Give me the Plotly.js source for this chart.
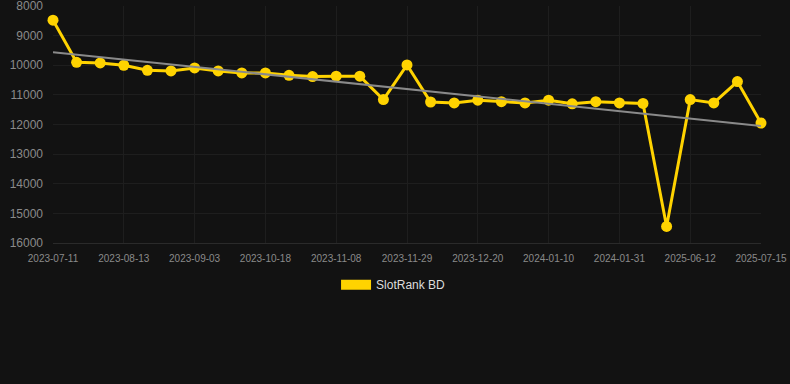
<!DOCTYPE html>
<html>
<head>
<meta charset="utf-8">
<script src="https://cdn.plot.ly/plotly-3.0.1.min.js"></script>
<style>html,body{margin:0;padding:0;background:#121212;}#chart{width:790px;height:384px;}</style>
</head>
<body>
<div id="chart"></div>
<script>
const pointIndex = [0,1,2,3,4,5,6,7,8,9,10,11,12,13,14,15,16,17,18,19,20,21,22,23,24,25,26,27,28,29,30];
const rankValues = [8480,9900,9920,10000,10170,10190,10090,10190,10260,10260,10340,10380,10370,10370,11160,9990,11240,11270,11180,11230,11270,11180,11300,11230,11270,11290,15440,11160,11270,10550,11950];
const tickPositions = [0,3,6,9,12,15,18,21,24,27,30];
const tickLabels = ['2023-07-11','2023-08-13','2023-09-03','2023-10-18','2023-11-08','2023-11-29','2023-12-20','2024-01-10','2024-01-31','2025-06-12','2025-07-15'];
const seriesName = 'SlotRank BD';

// linear trend from the data
const n = pointIndex.length;
const mx = pointIndex.reduce((a,b)=>a+b,0)/n;
const my = rankValues.reduce((a,b)=>a+b,0)/n;
let sxy=0, sxx=0;
for (let i=0;i<n;i++){ sxy += (pointIndex[i]-mx)*(rankValues[i]-my); sxx += (pointIndex[i]-mx)**2; }
const slope = sxy/sxx, icpt = my - slope*mx;
const trendX = [pointIndex[0], pointIndex[n-1]];
const trendY = trendX.map(x => icpt + slope*x);

const yellow = '#FFD300';
const traces = [
  {x: pointIndex, y: rankValues, type:'scatter', mode:'lines+markers', showlegend:false,
   line:{color:yellow, width:3}, marker:{color:yellow, size:11}, cliponaxis:false, hoverinfo:'y'},
  {x: trendX, y: trendY, type:'scatter', mode:'lines', showlegend:false,
   line:{color:'#8a8a8a', width:2}, hoverinfo:'skip'},
  {x:[null], y:[null], type:'scatter', mode:'lines', name: seriesName,
   line:{color:yellow, width:12}, showlegend:true}
];
const layout = {
  width:790, height:384,
  paper_bgcolor:'#121212', plot_bgcolor:'#121212',
  margin:{l:53, r:29, t:6, b:141},
  font:{family:'Liberation Sans, Arial, sans-serif', color:'#8a8a8a'},
  xaxis:{range:[0,30], tickvals:tickPositions, ticktext:tickLabels, showgrid:true, automargin:false,
         gridcolor:'#1e1e1e', zeroline:false, showline:true, linecolor:'#2a2a2a', tickangle:0,
         tickfont:{size:10, color:'#8a8a8a'}, ticks:'', ticklabelstandoff:6, ticklabeloverflow:'allow', fixedrange:true},
  yaxis:{range:[16000,7999.5], tickvals:[8000,9000,10000,11000,12000,13000,14000,15000,16000],
         ticktext:['8000','9000','10000','11000','12000','13000','14000','15000','16000'],
         showgrid:true, gridcolor:'#1e1e1e', automargin:false, ticklabeloverflow:'allow',
         zeroline:false, tickfont:{size:12, color:'#8a8a8a'}, ticks:'', ticklabelstandoff:9, fixedrange:true},
  showlegend:true,
  legend:{orientation:'h', x:0.481, xanchor:'center', y:-0.115, yanchor:'top',
          font:{size:12, color:'#dddddd'}, bgcolor:'rgba(0,0,0,0)'}
};
Plotly.newPlot('chart', traces, layout, {displayModeBar:false, staticPlot:true});
</script>
</body>
</html>
